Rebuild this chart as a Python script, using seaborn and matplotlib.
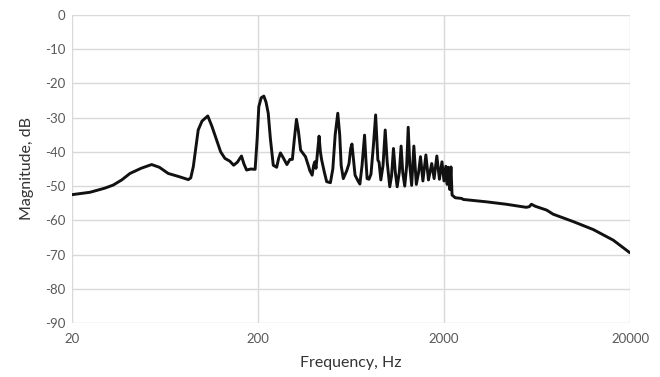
import matplotlib
matplotlib.use("Agg")
import matplotlib.pyplot as plt
import seaborn as sns
import pandas as pd

freq_hz = [20, 25, 30, 33.3, 37, 41, 47, 53.6, 59, 65.8, 76, 84.4, 87, 89.8, 93, 95.4, 100, 107.4,
           113, 119.8, 126, 132.8, 141, 148, 155, 163, 168, 173.6, 183, 193, 198, 202, 208, 215,
           221, 227, 233, 241.6, 252, 258, 264, 272, 286, 297, 306, 314, 322, 330, 339, 360, 374,
           380, 391, 398, 404, 410, 418, 426, 433, 440, 455, 468, 490, 505, 520, 537, 550, 560,
           575, 600, 617, 630, 640, 652, 665, 690, 706, 725, 748, 760, 772, 790, 810, 835, 858,
           870, 882, 895, 915, 940, 966, 990, 1022, 1045, 1070, 1095, 1120, 1150, 1176, 1200,
           1230, 1260, 1284, 1310, 1340, 1377, 1420, 1460, 1495, 1540, 1598, 1650, 1718, 1770,
           1830, 1890, 1950, 2000, 2046, 2080, 2110, 2150, 2180, 2210, 2300, 2486, 2540, 3392,
           4320, 5540, 5750, 5900, 6200, 7120, 7720, 9940, 12700, 16260, 20000]
magnitude_db = [-52.5, -51.8, -50.6, -49.7, -48.2, -46.3, -44.8, -43.7, -44.5, -46.3, -47.3, -48.1,
                -47.6, -44.3, -38.0, -33.6, -31.0, -29.5, -32.5, -36.5, -40.0, -41.9, -42.7, -43.9,
                -43.0, -41.2, -43.5, -45.3, -45.0, -45.1, -36.0, -26.8, -24.2, -23.7, -25.5, -28.7,
                -36.0, -43.9, -44.5, -42.0, -40.3, -41.5, -43.7, -42.2, -42.2, -36.0, -30.5, -34.0,
                -39.5, -41.4, -44.2, -45.5, -46.8, -44.0, -42.9, -44.8, -40.0, -35.4, -40.0, -42.4,
                -46.0, -48.7, -49.0, -45.0, -35.0, -28.7, -35.0, -44.0, -47.8, -45.5, -43.4, -39.0,
                -37.7, -42.0, -46.8, -48.5, -49.4, -44.0, -35.1, -42.0, -47.8, -48.0, -46.5, -38.0,
                -29.2, -36.0, -42.4, -43.0, -48.2, -44.0, -33.6, -43.0, -50.2, -47.0, -39.0, -46.0,
                -50.2, -46.0, -38.3, -46.0, -50.0, -44.0, -32.8, -44.0, -49.8, -38.3, -49.5, -46.0,
                -41.4, -48.5, -40.9, -48.2, -43.4, -47.8, -41.2, -48.0, -42.9, -48.5, -44.2, -49.5,
                -44.5, -51.0, -44.4, -52.6, -53.4, -53.6, -53.9, -54.6, -55.3, -56.2, -56.0, -55.3,
                -55.9, -57.0, -58.2, -60.4, -62.7, -65.8, -69.5]

x_ticks = [20, 200, 2000, 20000]
x_tick_labels = ["20", "200", "2000", "20000"]
y_ticks = list(range(-90, 1, 10))

df = pd.DataFrame({"Frequency": freq_hz, "Magnitude": magnitude_db})

sns.set_theme(style="white")
plt.rcParams["font.family"] = ["Lato", "DejaVu Sans"]

fig = plt.figure(figsize=(6.6, 3.77), dpi=100)
ax = fig.add_axes([72/660, 1-323/377, (630-72)/660, (323-15)/377])

sns.lineplot(data=df, x="Frequency", y="Magnitude", ax=ax, color="#111111",
             linewidth=2.1, sort=False, estimator=None)

ax.set_xscale("log")
ax.set_xlim(20, 20000)
ax.set_ylim(-90, 0)
ax.set_xticks(x_ticks)
ax.set_xticklabels(x_tick_labels)
ax.xaxis.set_minor_locator(matplotlib.ticker.NullLocator())
ax.set_yticks(y_ticks)
ax.set_yticklabels([str(v) for v in y_ticks])

ax.grid(True, which="major", axis="both", color="#d9d9d9", linewidth=1.0)
ax.set_axisbelow(True)
for s in ax.spines.values():
    s.set_visible(False)

ax.tick_params(axis="both", length=0, labelsize=9.5, colors="#595959")
ax.tick_params(axis="x", pad=7)
ax.tick_params(axis="y", pad=5)
ax.set_xlabel("Frequency, Hz", fontsize=11.5, color="#333333", labelpad=8)
ax.set_ylabel("Magnitude, dB", fontsize=11.5, color="#333333", labelpad=8)

fig.savefig("out.png", dpi=100)
